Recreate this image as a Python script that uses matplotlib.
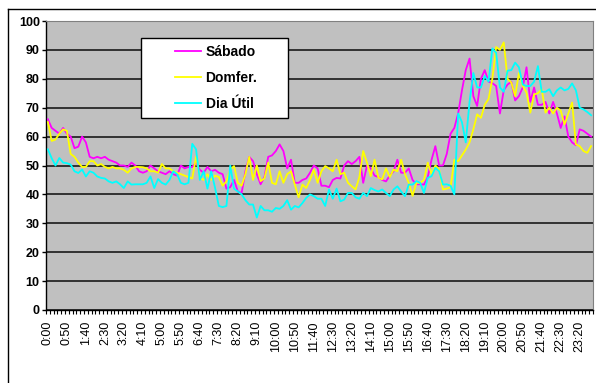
import numpy as np
import matplotlib
matplotlib.use("Agg")
import matplotlib.pyplot as plt
from matplotlib.patches import Rectangle
from matplotlib.lines import Line2D

plt.rcParams['font.family'] = ['Liberation Sans', 'DejaVu Sans']

# 10-minute slots over a whole day
horas = [f"{m // 60}:{m % 60:02d}" for m in range(0, 24 * 60, 10)]

sabado = [66, 63, 62, 61, 63, 61, 60, 56, 56.5, 60, 58, 53,
          52.5, 53, 52.5, 53, 52, 51.5, 51, 50, 50, 49.5, 51, 50,
          48, 47.5, 48, 50, 49, 48, 47.5, 47, 48, 47, 46.5, 50,
          49, 49.5, 49.5, 51, 48.5, 47.5, 49.5, 48, 48.5, 47.5, 47, 42,
          42.5, 45, 41, 40.5, 48, 53, 51.5, 47, 43.5, 46, 53, 53.5,
          55, 57.3, 55, 49, 52, 44, 44, 45, 45.5, 47.5, 50, 49,
          43, 43, 42.5, 45, 45.7, 45.5, 50, 51.5, 50.5, 51.5, 53, 44,
          50, 49, 46.5, 46, 45, 44.5, 46.5, 48, 52, 47.5, 47.5, 49,
          45, 43.5, 43.5, 43.4, 46, 52, 56.7, 50, 50, 54, 61, 63,
          68, 76, 83, 87, 74, 70.6, 80, 83, 79, 78.5, 77.5, 68,
          76, 78, 79, 72.5, 74, 77, 84, 72, 77, 71, 71, 72,
          68, 72, 68, 63, 67, 60, 58, 57, 62.5, 62, 61, 60]

domfer = [65, 58.5, 59, 61, 62.5, 62, 54, 53, 51, 49.5, 49.5, 51.5,
          51.5, 50, 50.5, 49.5, 49, 49.5, 49, 49, 48.5, 47.5, 49, 49.5,
          49.5, 49.4, 49, 48, 48, 47.5, 50.5, 49, 49, 48, 47.5, 47,
          46.5, 46, 45.5, 53, 45.7, 45, 47, 45, 46.5, 46, 43, 44.5,
          48.6, 49.8, 44, 43, 47, 53, 45, 50, 44.6, 45.5, 51, 44,
          43.5, 48, 44, 47, 48, 43.4, 39, 43.4, 42.2, 45, 48.6, 44,
          48, 49.8, 49, 48, 52, 47, 47.5, 44, 42.8, 41.7, 46, 55,
          51, 46.3, 52, 45.8, 45.2, 49, 46, 48.6, 48, 52, 47, 44,
          39.5, 44, 44, 45, 51, 47, 50, 48.6, 41.7, 42, 42.5, 52,
          51.5, 53.5, 55.5, 58, 62.5, 67.7, 66.5, 71, 73, 80, 91, 90,
          92.6, 80, 78.7, 74, 82, 77.5, 75.2, 68.3, 74.6, 75, 76.4, 68.3,
          70, 68, 70, 69, 64.2, 68, 71.8, 57.3, 56.7, 55, 54.4, 56.7]

dia_util = [55.6, 52.5, 50, 52.6, 51, 50.8, 50.3, 48, 47.4, 48.6, 46.2, 48,
            47.5, 46.2, 45.7, 45.5, 44.5, 44, 44.5, 43.5, 42.2, 44.5, 43.4, 43.5,
            43.5, 43.5, 44, 46.2, 42.2, 45.3, 44, 43.4, 45, 48, 47, 44,
            43.5, 44, 57.5, 55.6, 45, 48, 42, 48, 42.3, 36, 35.6, 36,
            50, 42, 41, 40, 38, 36.5, 36.5, 32, 36, 34.5, 34.5, 34,
            35.3, 35, 36, 38, 34.7, 36, 35.5, 37, 38.8, 40, 39.4, 38.5,
            38.5, 36, 41.7, 38.5, 42, 37.6, 38.2, 40.5, 40.5, 39, 38.5, 40.5,
            39.4, 42.2, 41.5, 41, 41.7, 40.5, 39.4, 41.7, 42.8, 41, 39.4, 43.4,
            43.4, 44.6, 44, 40.5, 45.7, 46.3, 49.2, 48, 43.4, 43.5, 43, 40,
            68, 65, 58, 72, 82, 77, 77, 81, 79, 90.5, 89, 77,
            75.5, 82.8, 83, 85.6, 84, 78, 77.5, 77.5, 79, 84.4, 75.5, 75.5,
            76.4, 74, 76, 77, 76, 76.5, 78.4, 76, 70, 69.4, 68.5, 67.4]

series = [("Sábado", sabado, "#FF00FF"),
          ("Domfer.", domfer, "#FFFF00"),
          ("Dia Útil", dia_util, "#00FFFF")]

W, H = 596, 383
fig = plt.figure(figsize=(W / 100, H / 100), dpi=100)
fig.patch.set_facecolor("white")

# plot area in pixels: x 46..593, y 21..310
ax = fig.add_axes([46 / W, (H - 310) / H, (593 - 46) / W, (310 - 21) / H])
ax.set_facecolor("#C0C0C0")

x = np.arange(len(horas))
for nome, vals, cor in series:
    ax.plot(x, vals, color=cor, lw=1.3, label=nome, zorder=3)

ax.set_xlim(-0.5, len(horas) - 0.5)
ax.set_ylim(0, 100)
ax.set_yticks(range(0, 101, 10))
ax.yaxis.grid(True, color="#1a1a1a", lw=1.2)
ax.set_axisbelow(True)

for lab in ax.get_yticklabels():
    lab.set_fontweight("bold")
ax.tick_params(axis="y", length=3, width=1, pad=1.5, labelsize=9, direction="out")

ax.set_xticks(x[::5])
ax.set_xticklabels(horas[::5], rotation=90, fontsize=9)
ax.set_xticks(np.arange(-0.5, len(horas)), minor=True)
ax.tick_params(axis="x", which="major", length=0, pad=8)
ax.tick_params(axis="x", which="minor", length=3, width=0.8, direction="out")

for s in ["top", "right"]:
    ax.spines[s].set_color("#808080")
for s in ["left", "bottom"]:
    ax.spines[s].set_color("black")
    ax.spines[s].set_linewidth(1.0)

# legend box
lx0, lx1 = (141 - 46) / 547, (288 - 46) / 547
ly0, ly1 = (310 - 118) / 289, (310 - 38) / 289
ax.add_patch(Rectangle((lx0, ly0), lx1 - lx0, ly1 - ly0, transform=ax.transAxes,
                       facecolor="white", edgecolor="black", lw=1, zorder=4))
leg = ax.legend(loc="upper left", bbox_to_anchor=((175 - 46) / 547, (310 - 45) / 289),
                frameon=False, borderpad=0, borderaxespad=0, handlelength=1.9,
                handletextpad=0.3, labelspacing=0.85,
                prop={"weight": "bold", "size": 10})
leg.set_zorder(5)

# outer chart frame
fx, fy = 8 / W, (H - 9) / H
fig.add_artist(Line2D([fx, 1.0], [fy, fy], color="black", lw=1, transform=fig.transFigure))
fig.add_artist(Line2D([fx, fx], [0.0, fy], color="black", lw=1, transform=fig.transFigure))

fig.savefig("out.png", dpi=100)
